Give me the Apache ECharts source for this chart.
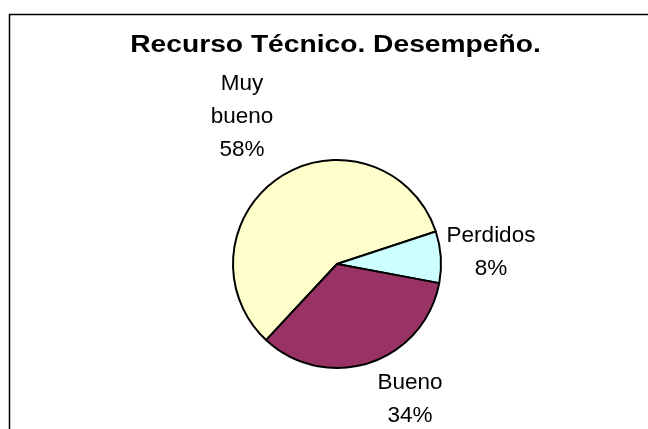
<!DOCTYPE html>
<html>
<head>
<meta charset="utf-8">
<title>Recurso Técnico. Desempeño.</title>
<script src="https://cdn.jsdelivr.net/npm/echarts@6/dist/echarts.min.js"></script>
<style>
  html, body { margin: 0; padding: 0; background: #fff; }
  #chart { width: 648px; height: 429px; }
</style>
</head>
<body>
<div id="chart"></div>
<script>
// Desempeño del recurso técnico
const categories = ['Muy bueno', 'Perdidos', 'Bueno'];
const values = [58, 8, 34];
const sliceColors = ['#FFFFCC', '#CCFFFF', '#993366'];
const titleText = 'Recurso Técnico. Desempeño.';

// where each label block sits (centre of the text block)
const labelAnchors = [[242, 117], [491, 252], [410, 399]];

const chart = echarts.init(document.getElementById('chart'), null, { renderer: 'canvas' });

chart.setOption({
  backgroundColor: '#ffffff',
  animation: false,
  graphic: [
    {
      type: 'polyline',
      shape: { points: [[9.5, 440], [9.5, 14.5], [660, 14.5]] },
      style: { stroke: '#000', lineWidth: 1.5, fill: null }
    },
    {
      type: 'text',
      x: 335.5,
      y: 46,
      scaleX: 1.2,
      style: {
        text: titleText,
        fontFamily: 'Liberation Sans, Arial, sans-serif',
        fontWeight: 'bold',
        fontSize: 23.5,
        fill: '#000',
        align: 'center',
        verticalAlign: 'middle'
      }
    }
  ],
  series: [{
    type: 'pie',
    center: [337, 264],
    radius: [0, 104],
    startAngle: 227,
    clockwise: true,
    avoidLabelOverlap: false,
    data: categories.map((name, i) => ({
      name: name,
      value: values[i],
      itemStyle: { color: sliceColors[i] }
    })),
    itemStyle: { borderColor: '#000', borderWidth: 2 },
    emphasis: { disabled: true },
    label: {
      show: true,
      position: 'inside',
      color: '#000',
      fontFamily: 'Liberation Sans, Arial, sans-serif',
      fontSize: 22.5,
      lineHeight: 33,
      align: 'center',
      verticalAlign: 'middle',
      formatter: p => p.name.replace(' ', '\n') + '\n' + Math.round(p.percent) + '%'
    },
    labelLine: { show: false },
    labelLayout: p => ({
      x: labelAnchors[p.dataIndex][0],
      y: labelAnchors[p.dataIndex][1],
      align: 'center',
      verticalAlign: 'middle'
    })
  }]
});
</script>
</body>
</html>
